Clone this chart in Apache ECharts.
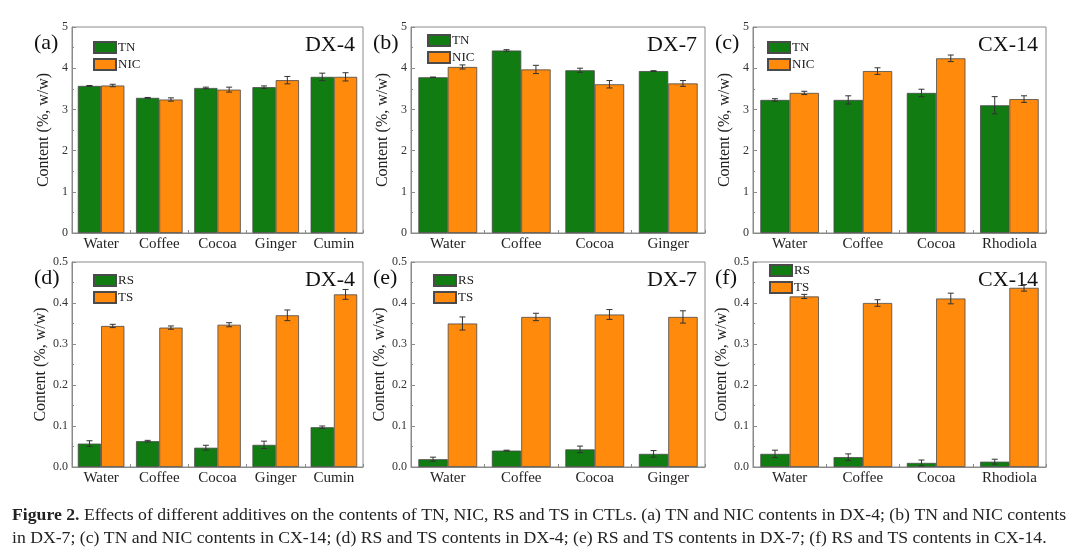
<!DOCTYPE html>
<html>
<head>
<meta charset="utf-8">
<script src="https://cdn.jsdelivr.net/npm/echarts@6/dist/echarts.min.js"></script>
<style>html,body{margin:0;padding:0;background:#fff}#c{width:1080px;height:558px}</style>
</head>
<body>
<div id="c"></div>
<script>
// ---------- data ----------
const catsA = ['Water', 'Coffee', 'Cocoa', 'Ginger', 'Cumin'];
const catsB = ['Water', 'Coffee', 'Cocoa', 'Ginger'];
const catsC = ['Water', 'Coffee', 'Cocoa', 'Rhodiola'];

// (a) DX-4
const tnA = [3.57, 3.28, 3.52, 3.54, 3.79];
const tnAErr = [0.01, 0.01, 0.02, 0.03, 0.09];
const nicA = [3.58, 3.24, 3.48, 3.71, 3.79];
const nicAErr = [0.03, 0.04, 0.06, 0.09, 0.10];
// (b) DX-7
const tnB = [3.78, 4.43, 3.95, 3.93];
const tnBErr = [0.005, 0.02, 0.05, 0.01];
const nicB = [4.03, 3.97, 3.61, 3.63];
const nicBErr = [0.05, 0.10, 0.09, 0.07];
// (c) CX-14
const tnC = [3.23, 3.23, 3.40, 3.10];
const tnCErr = [0.03, 0.10, 0.09, 0.21];
const nicC = [3.40, 3.93, 4.24, 3.25];
const nicCErr = [0.04, 0.08, 0.08, 0.08];
// (d) DX-4
const rsD = [0.057, 0.063, 0.047, 0.054, 0.097];
const rsDErr = [0.007, 0.002, 0.006, 0.009, 0.003];
const tsD = [0.344, 0.340, 0.347, 0.370, 0.421];
const tsDErr = [0.004, 0.004, 0.005, 0.013, 0.012];
// (e) DX-7
const rsE = [0.019, 0.040, 0.043, 0.032];
const rsEErr = [0.005, 0.001, 0.008, 0.008];
const tsE = [0.350, 0.366, 0.372, 0.366];
const tsEErr = [0.016, 0.009, 0.012, 0.015];
// (f) CX-14
const rsF = [0.032, 0.024, 0.010, 0.013];
const rsFErr = [0.009, 0.008, 0.007, 0.006];
const tsF = [0.416, 0.400, 0.411, 0.437];
const tsFErr = [0.005, 0.008, 0.013, 0.008];

const panels = [
  {cats: catsA, s1: tnA, e1: tnAErr, s2: nicA, e2: nicAErr, n1: 'TN', n2: 'NIC', max: 5, interval: 1, dec: 0, tag: '(a)', name: 'DX-4'},
  {cats: catsB, s1: tnB, e1: tnBErr, s2: nicB, e2: nicBErr, n1: 'TN', n2: 'NIC', max: 5, interval: 1, dec: 0, tag: '(b)', name: 'DX-7'},
  {cats: catsC, s1: tnC, e1: tnCErr, s2: nicC, e2: nicCErr, n1: 'TN', n2: 'NIC', max: 5, interval: 1, dec: 0, tag: '(c)', name: 'CX-14'},
  {cats: catsA, s1: rsD, e1: rsDErr, s2: tsD, e2: tsDErr, n1: 'RS', n2: 'TS', max: 0.5, interval: 0.1, dec: 1, tag: '(d)', name: 'DX-4'},
  {cats: catsB, s1: rsE, e1: rsEErr, s2: tsE, e2: tsEErr, n1: 'RS', n2: 'TS', max: 0.5, interval: 0.1, dec: 1, tag: '(e)', name: 'DX-7'},
  {cats: catsC, s1: rsF, e1: rsFErr, s2: tsF, e2: tsFErr, n1: 'RS', n2: 'TS', max: 0.5, interval: 0.1, dec: 1, tag: '(f)', name: 'CX-14'}
];

// ---------- layout ----------
const cols = [[72, 363], [411, 705], [753, 1046]];
const rows = [[27, 233], [262, 467]];
const legendPos = [
  [[93, 41], [427, 34], [767, 41]],
  [[93, 274], [433, 274], [769, 264]]
];
const FONT = '"Liberation Serif", "DejaVu Serif", serif';
const GREEN = '#107c12';
const ORANGE = '#ff8a0c';
const AXIS = '#8a8a8a';

const grids = [], xAxes = [], yAxes = [], series = [], legends = [], graphics = [];

panels.forEach((p, i) => {
  const r = Math.floor(i / 3), c = i % 3;
  const [l, rt] = cols[c];
  const [t, b] = rows[r];
  grids.push({left: l, top: t, width: rt - l, height: b - t, show: true, borderColor: AXIS, borderWidth: 1, backgroundColor: 'transparent'});
  xAxes.push({
    type: 'category', gridIndex: i, data: p.cats,
    axisLine: {lineStyle: {color: AXIS}},
    axisTick: {show: true, inside: true, length: 3, lineStyle: {color: AXIS}},
    axisLabel: {fontFamily: FONT, fontSize: 15, color: '#222', margin: 4}
  });
  yAxes.push({
    type: 'value', gridIndex: i, min: 0, max: p.max, interval: p.interval,
    name: 'Content (%, w/w)', nameLocation: 'middle', nameGap: 20,
    nameTextStyle: {fontFamily: FONT, fontSize: 16, color: '#222'},
    axisLine: {show: true, lineStyle: {color: AXIS}},
    axisTick: {show: true, inside: true, length: 4, lineStyle: {color: AXIS}},
    minorTick: {show: true, splitNumber: 2, length: 2, lineStyle: {color: AXIS}},
    splitLine: {show: false},
    axisLabel: {fontFamily: FONT, fontSize: 12, color: '#333', margin: 4,
      formatter: v => (p.dec ? v.toFixed(1) : String(Math.round(v)))}
  });
  const barStyle = col => ({color: col, borderColor: '#4a4a4a', borderWidth: 0.8});
  series.push({type: 'bar', name: p.n1, xAxisIndex: i, yAxisIndex: i, data: p.s1, barGap: '0%', barCategoryGap: '20%', itemStyle: barStyle(GREEN), emphasis: {disabled: true}});
  series.push({type: 'bar', name: p.n2, xAxisIndex: i, yAxisIndex: i, data: p.s2, barGap: '0%', barCategoryGap: '20%', itemStyle: barStyle(ORANGE), emphasis: {disabled: true}});
  [[p.s1, p.e1, -1], [p.s2, p.e2, 1]].forEach(([vals, errs, side]) => {
    series.push({
      type: 'custom', xAxisIndex: i, yAxisIndex: i, z: 10, silent: true,
      data: vals.map((v, k) => [k, v, errs[k]]),
      renderItem: (params, api) => {
        const k = api.value(0), v = api.value(1), e = api.value(2);
        const band = api.size([1, 0])[0];
        const bw = band * 0.8 / 2;
        const x = api.coord([k, v])[0] + side * bw / 2;
        const yt = api.coord([k, v + e])[1];
        const yb = api.coord([k, v - e])[1];
        const cw = 3;
        const st = {stroke: '#333', lineWidth: 1};
        return {type: 'group', children: [
          {type: 'line', shape: {x1: x, y1: yt, x2: x, y2: yb}, style: st},
          {type: 'line', shape: {x1: x - cw, y1: yt, x2: x + cw, y2: yt}, style: st},
          {type: 'line', shape: {x1: x - cw, y1: yb, x2: x + cw, y2: yb}, style: st}
        ]};
      }
    });
  });
  const lp = legendPos[r][c];
  legends.push({
    data: [{name: p.n1, icon: 'rect'}, {name: p.n2, icon: 'rect'}], orient: 'vertical', left: lp[0], top: lp[1],
    itemWidth: 22, itemHeight: 11, itemGap: 4, selectedMode: false,
    textStyle: {fontFamily: FONT, fontSize: 13, color: '#222', padding: [0, 0, 0, -3]},
    padding: 0
  });
  graphics.push({type: 'text', left: l - 38, top: t + 5,
    style: {text: p.tag, font: '22px ' + FONT, fill: '#111'}});
  graphics.push({type: 'text', right: 1080 - rt + 8, top: t + 7,
    style: {text: p.name, font: '22px ' + FONT, fill: '#111'}});
});

graphics.push({type: 'text', left: 12, top: 504,
  style: {
    text: '{b|Figure 2.} Effects of different additives on the contents of TN, NIC, RS and TS in CTLs. (a) TN and NIC contents in DX-4; (b) TN and NIC contents\nin DX-7; (c) TN and NIC contents in CX-14; (d) RS and TS contents in DX-4; (e) RS and TS contents in DX-7; (f) RS and TS contents in CX-14.',
    font: '17.7px ' + FONT, fill: '#222', lineHeight: 23,
    rich: {b: {fontWeight: 'bold', fontFamily: FONT, fontSize: 17.7, fill: '#222', lineHeight: 23}}
  }});

const chart = echarts.init(document.getElementById('c'), null, {renderer: 'canvas'});
chart.setOption({
  animation: false,
  backgroundColor: '#fff',
  grid: grids, xAxis: xAxes, yAxis: yAxes, series: series, legend: legends,
  graphic: graphics
});
</script>
</body>
</html>
